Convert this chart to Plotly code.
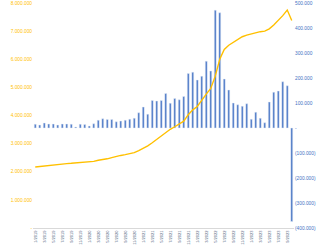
import plotly.graph_objects as go

categories = [f"{m}/{y}" for y in range(2019, 2024) for m in range(1, 13)][:58]

# monthly values (right axis)
bar_values = [
    15000, 12000, 20000, 16000, 16000, 12000, 16000, 16000, 15000, 4000, 15000, 14000,
    8000, 17000, 31000, 37000, 34000, 34000, 25000, 28000, 31000, 35000, 39000, 61000,
    84000, 55000, 110000, 108000, 110000, 138000, 99000, 118000, 113000, 126000, 218000, 223000,
    192000, 207000, 267000, 228000, 471000, 461000, 196000, 152000, 100000, 93000, 87000, 97000,
    35000, 63000, 39000, 21000, 104000, 143000, 148000, 185000, 169000, -374000,
]

# cumulative line (left axis)
line_values = [
    2170000, 2190000, 2210000, 2230000, 2240000, 2260000, 2270000, 2290000, 2300000, 2310000, 2320000, 2335000,
    2350000, 2370000, 2410000, 2430000, 2460000, 2500000, 2550000, 2580000, 2610000, 2650000, 2680000, 2750000,
    2830000, 2920000, 3030000, 3150000, 3300000, 3420000, 3510000, 3600000, 3700000, 3800000, 4030000, 4200000,
    4320000, 4550000, 4760000, 4960000, 5400000, 6000000, 6350000, 6500000, 6600000, 6720000, 6800000, 6860000,
    6900000, 6950000, 6980000, 7000000, 7080000, 7220000, 7380000, 7550000, 7750000, 7380000,
]

left_ticks = [0, 1000000, 2000000, 3000000, 4000000, 5000000, 6000000, 7000000, 8000000]
left_text = ["-", "1.000.000", "2.000.000", "3.000.000", "4.000.000", "5.000.000", "6.000.000", "7.000.000", "8.000.000"]
right_ticks = [-400000, -300000, -200000, -100000, 0, 100000, 200000, 300000, 400000, 500000]
right_text = ["(400.000)", "(300.000)", "(200.000)", "(100.000)", "-", "100.000", "200.000", "300.000", "400.000", "500.000"]

BLUE = "#4472C4"
GOLD = "#FFC000"

fig = go.Figure()
fig.add_trace(go.Bar(x=categories, y=bar_values, marker_color=BLUE, yaxis="y", showlegend=False))
fig.add_trace(go.Scatter(x=categories, y=line_values, mode="lines", line=dict(color=GOLD, width=1.4),
                         yaxis="y2", showlegend=False))

fig.update_layout(
    width=326, height=245,
    margin=dict(l=33, r=32, t=3, b=17),
    paper_bgcolor="white", plot_bgcolor="white",
    bargap=0.58,
    xaxis=dict(type="category", tickvals=categories[::2], tickangle=-90,
               tickfont=dict(size=4, color="#4a5a7a", family="Liberation Sans"),
               showgrid=False, showline=True, linecolor="#D9D9D9", linewidth=1,
               ticks="", automargin=False, range=[-0.5, 57.5]),
    yaxis=dict(side="right", range=[-400000, 500000], tickvals=right_ticks, ticktext=right_text,
               tickfont=dict(size=4.8, color=BLUE, family="Liberation Sans"),
               showgrid=False, zeroline=False, automargin=False, ticks="", ticklabeloverflow="allow"),
    yaxis2=dict(side="left", overlaying="y", range=[0, 8000000], tickvals=left_ticks, ticktext=left_text,
                tickfont=dict(size=4.8, color=GOLD, family="Liberation Sans"),
                showgrid=False, zeroline=False, automargin=False, ticks="", ticklabeloverflow="allow"),
)

fig.write_html("out.html")
